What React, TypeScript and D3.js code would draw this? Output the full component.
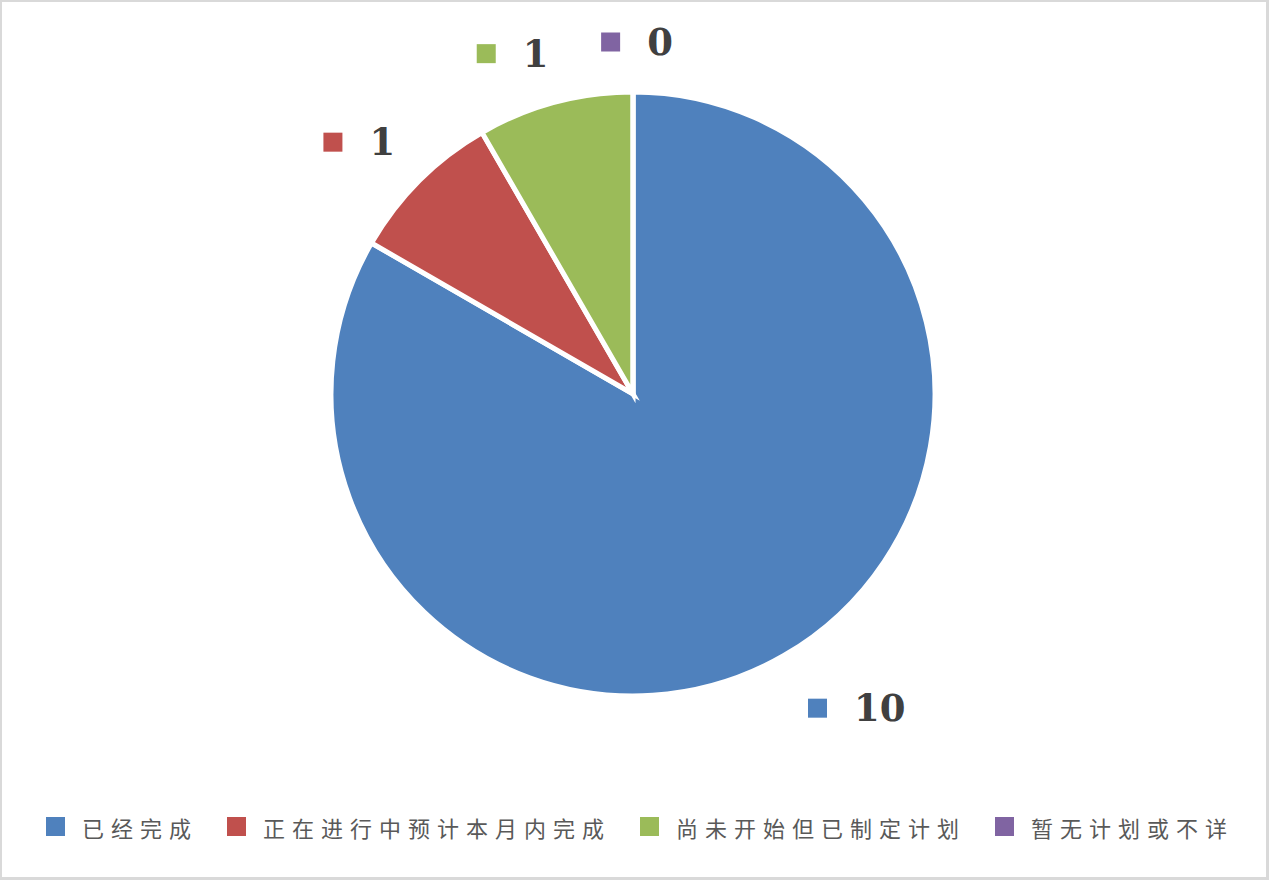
import { useEffect, useRef } from "react";
import * as d3 from "d3";

// Chart data
const CATEGORIES = ["已经完成", "正在进行中预计本月内完成", "尚未开始但已制定计划", "暂无计划或不详"];
const VALUES = [10, 1, 1, 0];
const COLORS = ["#4f81bd", "#c0504d", "#9bbb59", "#8064a2"];

const WIDTH = 1272;
const HEIGHT = 882;
const CX = 633;
const CY = 394;
const RADIUS = 302;

export default function App() {
  const svgRef = useRef<SVGSVGElement | null>(null);

  useEffect(() => {
    if (!svgRef.current) return;
    const svg = d3.select(svgRef.current);
    svg.selectAll("*").remove();

    // Chart frame
    svg
      .append("rect")
      .attr("x", 0.5)
      .attr("y", 0.5)
      .attr("width", 1267)
      .attr("height", 878)
      .attr("fill", "#fff")
      .attr("stroke", "#d9d9d9")
      .attr("stroke-width", 3);

    const pie = d3
      .pie<number>()
      .sort(null)
      .value((d) => d);
    const arcs = pie(VALUES);
    const arc = d3.arc<d3.PieArcDatum<number>>().innerRadius(0).outerRadius(RADIUS);

    const g = svg.append("g").attr("transform", `translate(${CX},${CY})`);
    g.selectAll("path")
      .data(arcs)
      .join("path")
      .attr("d", arc)
      .attr("fill", (_d, i) => COLORS[i])
      .attr("stroke", "#fff")
      .attr("stroke-width", 5)
      .attr("stroke-linejoin", "miter");

    // Data labels: colour key + value, placed outside the slice end
    const KEY = 19;
    const labelG = svg.append("g");
    arcs.forEach((a, i) => {
      const mid = (a.startAngle + a.endAngle) / 2;
      const dx = Math.sin(mid);
      const dy = -Math.cos(mid);
      const dist = RADIUS + 40;
      const px = CX + dx * dist + 4;
      const py = CY + dy * dist + 4;

      const lg = labelG.append("g");
      lg.append("rect")
        .attr("width", KEY)
        .attr("height", KEY)
        .attr("y", -KEY / 2)
        .attr("fill", COLORS[i]);
      const t = lg
        .append("text")
        .attr("x", KEY + 27)
        .attr("y", 0)
        .attr("dominant-baseline", "central")
        .attr("font-family", "DejaVu Serif")
        .attr("font-weight", "bold")
        .attr("font-size", 37)
        .attr("fill", "#404040")
        .text(String(VALUES[i]));
      const w = KEY + 27 + (t.node() as SVGTextElement).getComputedTextLength();
      const h = 28;
      const kx = Math.max(-1, Math.min(1, dx / 0.25));
      const ky = Math.max(-1, Math.min(1, dy / 0.5));
      const bx = px + (kx * w) / 2 - w / 2;
      const by = py + (ky * h) / 2;
      lg.attr("transform", `translate(${bx},${by})`);
    });

    // Legend along the bottom
    const LEG_Y = 826.5;
    const PITCH = 29;
    const TEXT_GAP = 17;
    const ITEM_GAP = 29;
    const itemW = CATEGORIES.map((c) => KEY + TEXT_GAP + c.length * PITCH);
    const total = d3.sum(itemW) + ITEM_GAP * (CATEGORIES.length - 1);
    let x = 640 - total / 2;
    const legend = svg.append("g");
    CATEGORIES.forEach((c, i) => {
      const item = legend.append("g").attr("transform", `translate(${x},${LEG_Y})`);
      item
        .append("rect")
        .attr("y", -KEY / 2)
        .attr("width", KEY)
        .attr("height", KEY)
        .attr("fill", COLORS[i]);
      item
        .append("text")
        .attr("x", KEY + TEXT_GAP)
        .attr("y", 0)
        .attr("dominant-baseline", "central")
        .attr("font-family", "Noto Sans CJK SC")
        .attr("font-size", 22)
        .attr("letter-spacing", PITCH - 22)
        .attr("fill", "#595959")
        .text(c);
      x += itemW[i] + ITEM_GAP;
    });
  }, []);

  return (
    <svg
      ref={svgRef}
      width={WIDTH}
      height={HEIGHT}
      style={{ position: "absolute", left: 0, top: 0, background: "#fff" }}
    />
  );
}
